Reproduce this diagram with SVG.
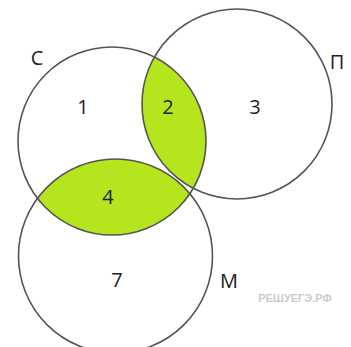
<svg xmlns="http://www.w3.org/2000/svg" width="351" height="347" viewBox="0 0 351 347">
<style>
.c{fill:none;stroke:#555;stroke-width:1.6}
.g{fill:#b5e61d}
.t{font-family:"Open Sans","Liberation Sans",sans-serif;font-size:20px;fill:#222;text-anchor:middle}
.w{font-family:"Liberation Sans",sans-serif;font-size:11px;font-weight:bold;fill:#ccc;text-anchor:middle}
</style>
<defs>
<clipPath id="clipC"><circle cx="112" cy="141" r="94"/></clipPath>
</defs>
<g id="fills">
<circle class="g" cx="237" cy="104" r="95" clip-path="url(#clipC)"/>
<circle class="g" cx="115.5" cy="256" r="97" clip-path="url(#clipC)"/>
</g>
<g id="setC"><circle class="c" cx="112" cy="141" r="94"/><text class="t" x="37" y="65">С</text></g>
<g id="setP"><circle class="c" cx="237" cy="104" r="95"/><text class="t" x="337" y="69">П</text></g>
<g id="setM"><circle class="c" cx="115.5" cy="256" r="97"/><text class="t" x="229" y="288">М</text></g>
<g id="labels">
<text class="t" x="83" y="114">1</text>
<text class="t" x="168" y="114">2</text>
<text class="t" x="255" y="114">3</text>
<text class="t" x="108" y="204">4</text>
<text class="t" x="117" y="287">7</text>
</g>
<text class="w" x="295" y="302">РЕШУЕГЭ.РФ</text>
</svg>
